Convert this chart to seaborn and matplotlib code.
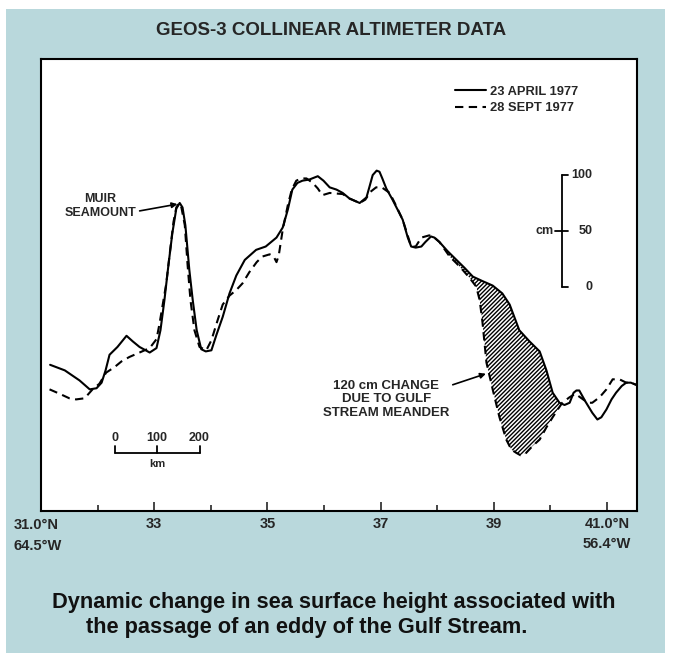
import numpy as np
import pandas as pd
import seaborn as sns
import matplotlib.pyplot as plt
from matplotlib.patches import Rectangle

# GEOS-3 collinear altimeter passes: latitude (deg N) vs sea surface height (cm)
april_lat = [31.16, 31.42, 31.68, 31.86, 31.98, 32.07, 32.14, 32.21, 32.35, 32.51,
             32.62, 32.74, 32.92, 33.04, 33.11, 33.18, 33.25, 33.32, 33.39, 33.45,
             33.50, 33.55, 33.62, 33.68, 33.75, 33.83, 33.91, 34.01, 34.10, 34.21,
             34.33, 34.45, 34.60, 34.80, 34.97, 35.16, 35.27, 35.36, 35.44, 35.53,
             35.62, 35.74, 35.89, 35.99, 36.10, 36.22, 36.33, 36.45, 36.63, 36.75,
             36.80, 36.86, 36.93, 36.98, 37.03, 37.10, 37.21, 37.30, 37.39, 37.48,
             37.54, 37.62, 37.72, 37.79, 37.89, 37.95, 38.04, 38.18, 38.34, 38.48,
             38.63, 38.80, 38.98, 39.15, 39.28, 39.45, 39.63, 39.81, 39.93, 40.04,
             40.16, 40.25, 40.34, 40.41, 40.46, 40.51, 40.62, 40.74, 40.83, 40.90,
             40.99, 41.08, 41.16, 41.26, 41.34, 41.42, 41.52]
april_cm = [-70, -75, -84, -92, -91, -86, -75, -61, -54, -44,
            -49, -54, -59, -55, -39, -12, 19, 48, 70, 75,
            71, 55, 15, -12, -39, -56, -58, -57, -43, -27,
            -6, 10, 24, 33, 36, 44, 53, 69, 87, 93,
            95, 96, 99, 95, 89, 87, 84, 79, 75, 80,
            89, 100, 104, 103, 97, 88, 78, 69, 60, 44,
            36, 35, 36, 40, 45, 44, 40, 32, 24, 17,
            9, 5, 1, -6, -16, -39, -49, -58, -75, -95,
            -104, -106, -104, -95, -93, -93, -103, -113, -119, -117,
            -110, -101, -95, -89, -86, -86, -88]

sept_lat = [31.15, 31.33, 31.50, 31.62, 31.77, 31.91, 32.03, 32.15, 32.30, 32.42,
            32.56, 32.74, 32.92, 33.04, 33.09, 33.15, 33.21, 33.27, 33.34, 33.39,
            33.44, 33.48, 33.54, 33.59, 33.64, 33.71, 33.80, 33.92, 34.01, 34.12,
            34.21, 34.33, 34.45, 34.56, 34.68, 34.81, 34.91, 35.04, 35.11, 35.16,
            35.20, 35.27, 35.36, 35.43, 35.51, 35.60, 35.69, 35.80, 35.89, 35.97,
            36.10, 36.33, 36.45, 36.63, 36.73, 36.82, 36.92, 37.02, 37.16, 37.25,
            37.39, 37.54, 37.62, 37.72, 37.86, 37.95, 38.04, 38.22, 38.34, 38.45,
            38.57, 38.69, 38.75, 38.80, 38.87, 38.98, 39.10, 39.22, 39.31, 39.40,
            39.47, 39.57, 39.68, 39.81, 39.93, 40.04, 40.13, 40.21, 40.34, 40.44,
            40.55, 40.66, 40.74, 40.87, 40.99, 41.10, 41.22, 41.34, 41.42, 41.52]
sept_cm = [-92, -96, -100, -101, -100, -92, -87, -77, -72, -67,
           -63, -59, -55, -47, -34, -16, 2, 28, 58, 71,
           75, 71, 55, 19, -12, -39, -54, -57, -48, -30,
           -16, -8, -3, 3, 13, 22, 27, 29, 27, 22,
           28, 51, 73, 87, 95, 97, 97, 93, 88, 82,
           84, 83, 79, 75, 78, 85, 89, 89, 84, 75,
           60, 36, 36, 44, 46, 44, 40, 27, 21, 15,
           8, 0, -12, -32, -68, -92, -117, -137, -146, -149,
           -151, -149, -143, -137, -126, -117, -110, -104, -99, -96,
           -100, -104, -104, -99, -92, -83, -83, -86, -86, -88]

major_ticks = [33, 35, 37, 39, 41]
minor_ticks = [32, 34, 36, 38, 40]
tick_labels = ['33', '35', '37', '39', '41.0°N\n56.4°W']
cm_scale = [0, 50, 100]
km_scale = [0, 100, 200]
km_per_deg = 133.3

sns.set_style('white')
plt.rcParams['font.family'] = ['Liberation Sans', 'DejaVu Sans']
plt.rcParams['hatch.linewidth'] = 1.0

fig = plt.figure(figsize=(6.73, 6.58), dpi=100)
fig.patches.append(Rectangle((0.009, 0.0076), 0.979, 0.979, transform=fig.transFigure,
                             facecolor='#b9d8dc', edgecolor='none', zorder=-10))
ax = fig.add_axes([0.061, 0.2234, 0.8855, 0.6869])
ax.set_facecolor('white')

april = pd.DataFrame({'lat': april_lat, 'cm': april_cm})
sept = pd.DataFrame({'lat': sept_lat, 'cm': sept_cm})
sns.lineplot(data=april, x='lat', y='cm', color='black', linewidth=1.5,
             estimator=None, sort=False, ax=ax, label='23 APRIL 1977')
sns.lineplot(data=sept, x='lat', y='cm', color='black', linewidth=1.5,
             linestyle=(0, (4, 2.6)), estimator=None, sort=False, ax=ax,
             label='28 SEPT 1977')

# hatched area between the two passes (Gulf Stream meander)
xs = np.array(sorted(set([x for x in april_lat + sept_lat if 38.04 <= x <= 40.2])))
top = np.interp(xs, april_lat, april_cm)
bot = np.interp(xs, sept_lat, sept_cm)
ax.fill_between(xs, top, bot, where=top >= bot, facecolor='none', edgecolor='black',
                hatch='////////', linewidth=0)

ax.set_xlim(31.0, 41.53)
ax.set_ylim(-201, 204)
ax.set_xlabel('')
ax.set_ylabel('')
ax.set_yticks([])
ax.set_xticks(major_ticks)
ax.set_xticklabels(tick_labels, fontsize=10.5, fontweight='bold', linespacing=1.6)
ax.set_xticks(minor_ticks, minor=True)
ax.tick_params(axis='x', which='major', direction='in', length=6.5, width=1.2,
               bottom=True, pad=4)
ax.tick_params(axis='x', which='minor', direction='in', length=4, width=1.2, bottom=True)
for s in ax.spines.values():
    s.set_color('black')
    s.set_linewidth(1.5)
ax.text(-0.046, -0.016, '31.0°N\n64.5°W', transform=ax.transAxes, ha='left', va='top',
        fontsize=10.5, fontweight='bold', linespacing=1.6)

leg = ax.legend(loc='upper left', bbox_to_anchor=(0.683, 0.955), frameon=False,
                handlelength=2.4, handletextpad=0.35, labelspacing=0.35, borderpad=0,
                prop={'size': 9.3, 'weight': 'bold'})

# cm scale bar
bx = 40.20
ax.plot([bx, bx], [cm_scale[0], cm_scale[-1]], color='black', lw=1.3)
for v in cm_scale:
    x0 = bx - 0.11 if v == 50 else bx
    ax.plot([x0, bx + 0.11], [v, v], color='black', lw=1.3)
    ax.text(40.74, v, str(v), ha='right', va='center', fontsize=9, fontweight='bold')
ax.text(40.05, 50, 'cm', ha='right', va='center', fontsize=9, fontweight='bold')

# km scale bar
kx0, ky = 32.30, -149
kx = [kx0 + k / km_per_deg for k in km_scale]
ax.plot([kx[0], kx[-1]], [ky, ky], color='black', lw=1.3)
for x, k in zip(kx, km_scale):
    ax.plot([x, x], [ky, ky + 6], color='black', lw=1.3)
    ax.text(x, ky + 13, str(k), ha='center', va='center', fontsize=9, fontweight='bold')
ax.text(kx[1], ky - 10, 'km', ha='center', va='center', fontsize=8, fontweight='bold')

ax.annotate('MUIR\nSEAMOUNT', xy=(33.41, 74), xytext=(32.05, 72), ha='center',
            va='center', fontsize=9, fontweight='bold', linespacing=1.2,
            arrowprops=dict(arrowstyle='-|>', color='black', lw=1.2, shrinkA=0,
                            shrinkB=0, mutation_scale=8, relpos=(1.0, 0.3)))
ax.annotate('120 cm CHANGE\nDUE TO GULF\nSTREAM MEANDER', xy=(38.86, -78),
            xytext=(37.10, -101), ha='center', va='center', fontsize=9.5,
            fontweight='bold', linespacing=1.15,
            arrowprops=dict(arrowstyle='-|>', color='black', lw=1.2, shrinkA=0,
                            shrinkB=0, mutation_scale=8, relpos=(1.0, 0.85)))

fig.text(0.492, 0.954, 'GEOS-3 COLLINEAR ALTIMETER DATA', ha='center', va='center',
         fontsize=13.5, fontweight='bold')
fig.text(0.077, 0.0836, 'Dynamic change in sea surface height associated with',
         ha='left', va='center', fontsize=15.7, fontweight='bold', color='#111111')
fig.text(0.128, 0.0456, 'the passage of an eddy of the Gulf Stream.',
         ha='left', va='center', fontsize=15.7, fontweight='bold', color='#111111')

plt.savefig('out.png', dpi=100, facecolor='white')
